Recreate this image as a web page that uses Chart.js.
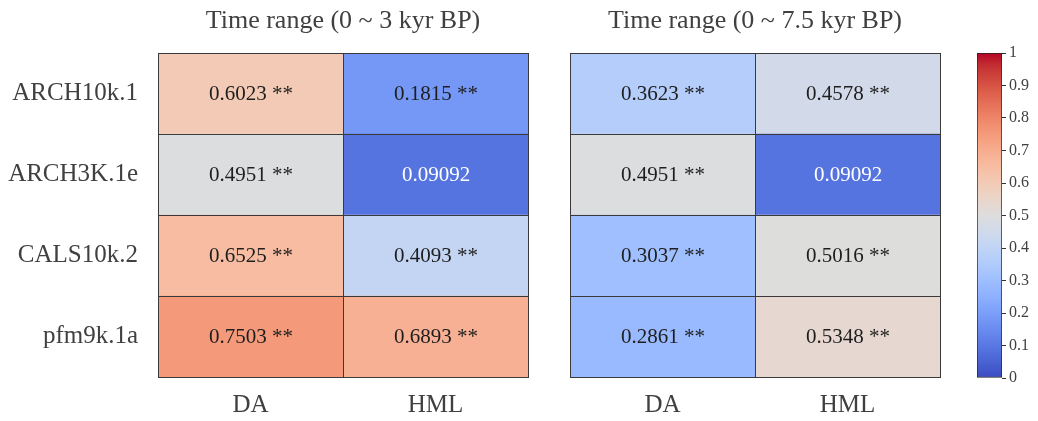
<!DOCTYPE html>
<html>
<head>
<meta charset="utf-8">
<script src="https://cdn.jsdelivr.net/npm/chart.js@4.4.1/dist/chart.umd.min.js"></script>
<style>
  html, body { margin: 0; padding: 0; background: #fff; }
  body { width: 1038px; height: 421px; position: relative; overflow: hidden; }
  .box { position: absolute; top: 0; height: 421px; }
</style>
</head>
<body>
<div class="box" style="left:0;width:540px"><canvas id="leftChart"></canvas></div>
<div class="box" style="left:540px;width:410px"><canvas id="rightChart"></canvas></div>
<div class="box" style="left:950px;width:88px"><canvas id="barScale"></canvas></div>
<script>
/* data */
const rows = ["ARCH10k.1", "ARCH3K.1e", "CALS10k.2", "pfm9k.1a"];
const cols = ["DA", "HML"];
const da3 = [0.6023, 0.4951, 0.6525, 0.7503];
const hml3 = [0.1815, 0.09092, 0.4093, 0.6893];
const da75 = [0.3623, 0.4951, 0.3037, 0.2861];
const hml75 = [0.4578, 0.09092, 0.5016, 0.5348];
const sigDA3 = ["**", "**", "**", "**"];
const sigHML3 = ["**", "", "**", "**"];
const sigDA75 = ["**", "**", "**", "**"];
const sigHML75 = ["**", "", "**", "**"];
const scaleMin = 0;
const scaleMax = 1;

const FONT = "'Liberation Serif', 'DejaVu Serif', serif";
const TEXT = "#404040";

/* coolwarm colormap */
const coolwarm = [
  [59, 76, 192], [68, 90, 204], [77, 104, 215], [87, 117, 225], [98, 130, 234],
  [108, 142, 241], [119, 154, 247], [130, 165, 251], [141, 176, 254], [152, 185, 255],
  [163, 194, 255], [174, 201, 253], [184, 208, 249], [194, 213, 244], [204, 217, 238],
  [213, 219, 230], [221, 221, 221], [229, 216, 209], [236, 211, 197], [241, 204, 184],
  [245, 196, 172], [247, 187, 160], [247, 177, 148], [247, 166, 135], [244, 154, 123],
  [241, 141, 111], [236, 127, 99], [229, 112, 88], [222, 96, 77], [213, 80, 66],
  [203, 62, 56], [192, 40, 47], [180, 4, 38],
];
function cmap(v) {
  let t = (v - scaleMin) / (scaleMax - scaleMin);
  t = Math.max(0, Math.min(1, t)) * (coolwarm.length - 1);
  const i = Math.min(Math.floor(t), coolwarm.length - 2);
  const f = t - i;
  const a = coolwarm[i], b = coolwarm[i + 1];
  const c = a.map((x, k) => Math.round(x + (b[k] - x) * f));
  return `rgb(${c[0]},${c[1]},${c[2]})`;
}

/* cell borders + value text */
const cellPlugin = {
  id: "cells",
  afterDatasetsDraw(chart) {
    const ctx = chart.ctx;
    ctx.save();
    chart.data.datasets.forEach((ds, di) => {
      const meta = chart.getDatasetMeta(di);
      meta.data.forEach((el, i) => {
        const p = el.getProps(["x", "y", "base", "height"], true);
        const l = Math.round(Math.min(p.x, p.base)) + 0.5;
        const r = Math.round(Math.max(p.x, p.base)) + 0.5;
        const t = Math.round(p.y - p.height / 2) + 0.5;
        const b = Math.round(p.y + p.height / 2) + 0.5;
        ctx.strokeStyle = "#3a3a3a";
        ctx.lineWidth = 1;
        ctx.strokeRect(l, t, r - l, b - t);

        const v = ds.values[i];
        const s = ds.sig[i];
        ctx.fillStyle = v < 0.15 ? "#ffffff" : "#1e1e1e";
        ctx.font = "21px " + FONT;
        ctx.textAlign = "center";
        ctx.textBaseline = "middle";
        ctx.fillText(s ? v + " " + s : String(v), (l + r) / 2, p.y + 1);
      });
    });
    ctx.restore();
  },
};

function heatDatasets(colValues, colSig) {
  return colValues.map((vals, c) => ({
    data: rows.map(() => [c, c + 1]),
    values: vals,
    sig: colSig[c],
    backgroundColor: vals.map(cmap),
    borderWidth: 0,
    grouped: false,
    barPercentage: 1,
    categoryPercentage: 1,
  }));
}

function heatOptions(title, showRows, padLeft, padRight) {
  return {
    indexAxis: "y",
    responsive: true,
    maintainAspectRatio: false,
    animation: false,
    layout: { padding: { left: padLeft, right: padRight, top: 0, bottom: 0 } },
    plugins: {
      legend: { display: false },
      tooltip: { enabled: false },
      title: {
        display: true,
        text: title,
        fullSize: false,
        color: TEXT,
        font: { family: FONT, size: 26, weight: "normal", lineHeight: 1.2 },
        padding: { top: 6, bottom: 15.8 },
      },
    },
    scales: {
      x: {
        type: "linear",
        min: 0,
        max: cols.length,
        grid: { display: false, drawTicks: false },
        border: { display: false },
        afterBuildTicks: (s) => {
          s.ticks = cols.map((c, i) => ({ value: i + 0.5 }));
        },
        afterFit: (s) => { s.height = 44; },
        ticks: {
          padding: 13,
          color: TEXT,
          font: { family: FONT, size: 25 },
          callback: (v, i) => cols[i],
        },
      },
      y: {
        display: showRows,
        grid: { display: false, drawTicks: false },
        border: { display: false },
        afterFit: (s) => { s.width = showRows ? 158 : 0; },
        ticks: {
          padding: 20,
          color: TEXT,
          font: { family: FONT, size: 25 },
        },
      },
    },
  };
}

new Chart(document.getElementById("leftChart"), {
  type: "bar",
  data: { labels: rows, datasets: heatDatasets([da3, hml3], [sigDA3, sigHML3]) },
  options: heatOptions("Time range (0 ~ 3 kyr BP)", true, 0, 12),
  plugins: [cellPlugin],
});

new Chart(document.getElementById("rightChart"), {
  type: "bar",
  data: { labels: rows, datasets: heatDatasets([da75, hml75], [sigDA75, sigHML75]) },
  options: heatOptions("Time range (0 ~ 7.5 kyr BP)", false, 30, 10),
  plugins: [cellPlugin],
});

/* colour bar */
new Chart(document.getElementById("barScale"), {
  type: "bar",
  data: {
    labels: [""],
    datasets: [
      {
        data: [[scaleMin, scaleMax]],
        backgroundColor: (c) => {
          const area = c.chart.chartArea;
          if (!area) return "#ddd";
          const g = c.chart.ctx.createLinearGradient(0, area.bottom, 0, area.top);
          coolwarm.forEach((rgb, i) => {
            g.addColorStop(i / (coolwarm.length - 1), `rgb(${rgb[0]},${rgb[1]},${rgb[2]})`);
          });
          return g;
        },
        borderColor: "#222",
        borderWidth: 1,
        borderSkipped: false,
        barPercentage: 1,
        categoryPercentage: 1,
      },
    ],
  },
  options: {
    responsive: true,
    maintainAspectRatio: false,
    animation: false,
    layout: { padding: { left: 27, right: 0, top: 53, bottom: 43 } },
    plugins: { legend: { display: false }, tooltip: { enabled: false } },
    scales: {
      x: { display: false },
      y: {
        position: "right",
        min: scaleMin,
        max: scaleMax,
        afterFit: (s) => { s.width = 36; },
        grid: { drawOnChartArea: false, tickLength: 4, color: "#333" },
        border: { display: false },
        ticks: {
          stepSize: 0.1,
          padding: 3,
          color: TEXT,
          font: { family: FONT, size: 16 },
          callback: (v) => String(Math.round(v * 10) / 10),
        },
      },
    },
  },
});
</script>
</body>
</html>
